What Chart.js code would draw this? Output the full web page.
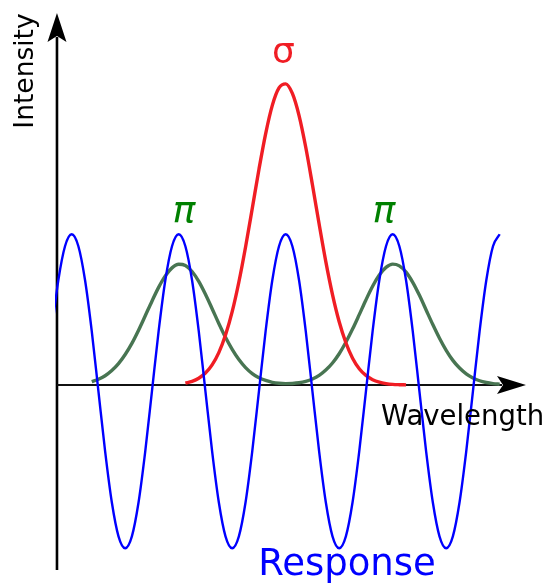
<!DOCTYPE html>
<html>
<head>
<meta charset="utf-8">
<script src="https://cdn.jsdelivr.net/npm/chart.js@4.4.1/dist/chart.umd.min.js"></script>
<style>
html,body{margin:0;padding:0;background:#ffffff;}
#wrap{width:548px;height:583px;position:relative;}
canvas{display:block;}
</style>
</head>
<body>
<div id="wrap"><canvas id="c" width="548" height="583"></canvas></div>
<script>
// ---- data (x = wavelength, arbitrary units; y = intensity, arbitrary units) ----
const wavelength = [
  -4.375,-4.25,-4.125,-4.0,-3.875,-3.75,-3.625,-3.5,-3.375,-3.25,-3.125,-3.0,
  -2.875,-2.75,-2.625,-2.5,-2.375,-2.25,-2.125,-2.0,-1.875,-1.75,-1.625,-1.5,
  -1.375,-1.25,-1.125,-1.0,-0.875,-0.75,-0.625,-0.5,-0.375,-0.25,-0.125,0.0,
  0.125,0.25,0.375,0.5,0.625,0.75,0.875,1.0,1.125,1.25,1.375,1.5,
  1.625,1.75,1.875,2.0,2.125,2.25,2.375,2.5,2.625,2.75,2.875,3.0,
  3.125,3.25,3.375,3.5,3.625,3.75,3.875,4.0
];

// blue "Response" curve
const response = [
  0.343,0.667,0.884,
  0.96,0.884,0.667,0.343,-0.04,-0.423,-0.747,-0.964,-1.04,-0.964,-0.747,-0.423,-0.04,0.343,0.667,0.884,
  0.96,0.884,0.667,0.343,-0.04,-0.423,-0.747,-0.964,-1.04,-0.964,-0.747,-0.423,-0.04,0.343,0.667,0.884,
  0.96,0.884,0.667,0.343,-0.04,-0.423,-0.747,-0.964,-1.04,-0.964,-0.747,-0.423,-0.04,0.343,0.667,0.884,
  0.96,0.884,0.667,0.343,-0.04,-0.423,-0.747,-0.964,-1.04,-0.964,-0.747,-0.423,-0.04,0.343,0.667,0.884,
  0.96
];

// red sigma line
const sigmaLine = [
  null,null,null,null,null,null,null,null,null,null,null,null,null,null,null,null,null,null,null,null,
  0.012,0.023,0.043,0.076,0.128,0.206,0.318,0.467,0.656,0.879,1.124,1.373,1.600,1.781,1.892,1.918,
  1.857,1.716,1.514,1.275,1.025,0.786,0.576,0.403,0.269,0.171,0.104,0.061,0.034,0.018,0.009,0.004,
  0.002,0.001,
  null,null,null,null,null,null,null,null,null,null,null,null,null,null
];

// green pi lines
const piLines = [
  null,null,null,null,null,null,
  0.022,0.037,0.059,0.092,0.136,0.194,0.265,0.349,0.441,0.534,
  0.622,0.695,0.746,0.769,0.761,0.723,0.660,0.578,0.486,0.392,
  0.304,0.227,0.162,0.111,0.073,0.046,0.029,0.017,0.011,0.009,
  0.010,0.014,0.023,0.038,0.061,0.095,0.140,0.199,0.272,0.356,
  0.448,0.542,0.629,0.700,0.749,0.770,0.759,0.719,0.654,0.571,
  0.478,0.385,0.298,0.221,0.157,0.108,0.071,0.045,0.027,0.016,
  0.009,0.005
];

const xAxisTitle = 'Wavelength';
const yAxisTitle = 'Intensity';
const responseLabel = 'Response';
const sigmaLabel = 'σ';
const piLabel = 'π';

// ---- build ----
function pts(arr){
  return wavelength.map((x,i)=>({x:x,y:arr[i]})).filter(p=>p.y!==null && p.y!==undefined);
}

const yAxisAt = -4.275;   // x position of vertical axis

const arrowPlugin = {
  id:'arrowAxes',
  beforeDatasetsDraw(chart){
    const {ctx, chartArea:a, scales} = chart;
    const x0 = scales.x.getPixelForValue(yAxisAt);
    const y0 = scales.y.getPixelForValue(0);
    ctx.save();
    ctx.strokeStyle = '#000';
    ctx.fillStyle = '#000';
    ctx.lineWidth = 2.6;
    ctx.beginPath(); ctx.moveTo(x0, a.bottom); ctx.lineTo(x0, a.top + 24); ctx.stroke();
    ctx.lineWidth = 2.2;
    ctx.strokeStyle = '#111';
    ctx.beginPath(); ctx.moveTo(x0, y0); ctx.lineTo(a.right - 24, y0); ctx.stroke();
    ctx.beginPath();
    ctx.moveTo(x0, a.top);
    ctx.lineTo(x0 - 9.5, a.top + 29);
    ctx.lineTo(x0, a.top + 23);
    ctx.lineTo(x0 + 9.5, a.top + 29);
    ctx.closePath(); ctx.fill();
    ctx.beginPath();
    ctx.moveTo(a.right, y0);
    ctx.lineTo(a.right - 29, y0 - 9);
    ctx.lineTo(a.right - 23, y0);
    ctx.lineTo(a.right - 29, y0 + 9);
    ctx.closePath(); ctx.fill();
    ctx.restore();
  },
  afterDatasetsDraw(chart){
    const {ctx} = chart;
    ctx.save();
    ctx.textBaseline = 'alphabetic';
    // y-axis title
    ctx.save();
    ctx.translate(33, 71);
    ctx.rotate(-Math.PI/2);
    ctx.textAlign = 'center';
    ctx.fillStyle = '#000';
    ctx.font = '26.5px "DejaVu Sans"';
    ctx.fillText(yAxisTitle, 0, 0);
    ctx.restore();
    // x-axis title
    ctx.textAlign = 'left';
    ctx.fillStyle = '#000';
    ctx.font = '27.5px "DejaVu Sans"';
    ctx.fillText(xAxisTitle, 381, 425);
    // Response
    ctx.textAlign = 'center';
    ctx.fillStyle = '#0000ff';
    ctx.font = '37px "DejaVu Sans"';
    ctx.fillText(responseLabel, 347, 575);
    // sigma
    ctx.fillStyle = '#f01d24';
    ctx.font = '36px "DejaVu Sans"';
    ctx.fillText(sigmaLabel, 283.5, 63);
    // pi
    ctx.fillStyle = '#008000';
    ctx.font = 'italic 38px "DejaVu Sans"';
    ctx.fillText(piLabel, 184, 221.5);
    ctx.fillText(piLabel, 384, 221.5);
    ctx.restore();
  }
};

new Chart(document.getElementById('c'), {
  type:'line',
  data:{
    datasets:[
      {label:'Response', data:pts(response), borderColor:'#0000ff', borderWidth:2.4,
       pointRadius:0, fill:false, cubicInterpolationMode:'monotone', order:0},
      {label:'σ', data:pts(sigmaLine), borderColor:'#f01d24', borderWidth:3.4,
       pointRadius:0, fill:false, cubicInterpolationMode:'monotone', order:1},
      {label:'π', data:pts(piLines), borderColor:'#487552', borderWidth:3.4,
       pointRadius:0, fill:false, cubicInterpolationMode:'monotone', order:2}
    ]
  },
  options:{
    responsive:false,
    animation:false,
    devicePixelRatio:1,
    layout:{padding:{left:55, right:22, top:13, bottom:13}},
    plugins:{legend:{display:false}, tooltip:{enabled:false}, title:{display:false}},
    scales:{
      x:{type:'linear', min:-4.312, max:4.492, display:false},
      y:{type:'linear', min:-1.1783, max:2.3694, display:false}
    }
  },
  plugins:[arrowPlugin]
});
</script>
</body>
</html>
